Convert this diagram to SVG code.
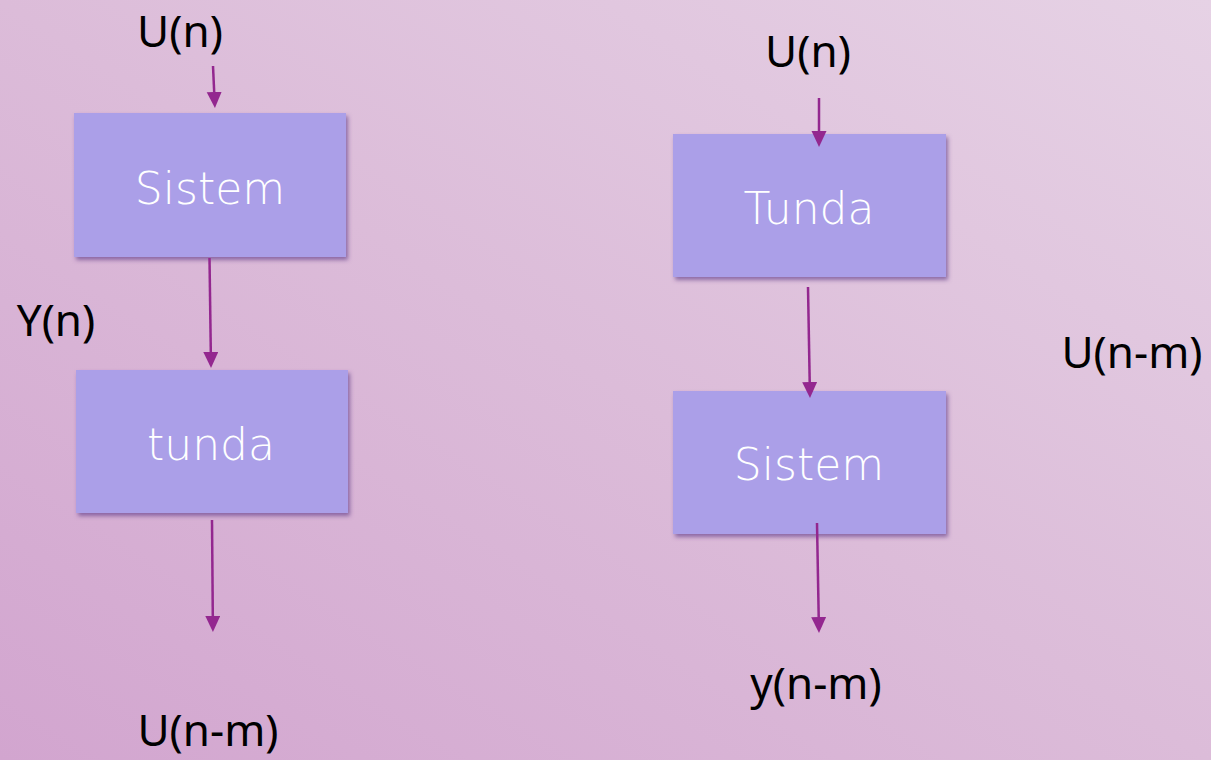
<svg xmlns="http://www.w3.org/2000/svg" width="1211" height="760" viewBox="0 0 1211 760">
  <defs>
    <linearGradient id="bg" x1="0" y1="1" x2="1" y2="0">
      <stop offset="0" stop-color="#d2a5cf"/>
      <stop offset="0.5" stop-color="#dcbcd9"/>
      <stop offset="1" stop-color="#e6d2e5"/>
    </linearGradient>
    <filter id="shadow" x="-10%" y="-10%" width="130%" height="130%">
      <feDropShadow dx="2" dy="3" stdDeviation="2" flood-color="#5e3a86" flood-opacity="0.65"/>
    </filter>
    <marker id="arrow" markerUnits="userSpaceOnUse" markerWidth="16" markerHeight="16" refX="0" refY="7.5" orient="auto">
      <path d="M0,0 L16,7.5 L0,15 z" fill="#93278f"/>
    </marker>
    <style>
      .box { fill: #ab9fe8; filter: url(#shadow); }
      .boxtext { font-family: "DejaVu Sans", "Liberation Sans", sans-serif; font-size: 44px; fill: #ffffff; text-anchor: middle; font-weight: 300; }
      .label { font-family: "Noto Sans", "Liberation Sans", sans-serif; font-size: 44px; fill: #000000; text-anchor: middle; }
      .conn { fill: none; stroke: #93278f; stroke-width: 2.5; marker-end: url(#arrow); }
    </style>
  </defs>
  <rect x="0" y="0" width="1211" height="760" fill="url(#bg)"/>

  <g id="node-sistem-left">
    <rect class="box" x="74" y="113" width="272" height="144"/>
    <text class="boxtext" x="210" y="204">Sistem</text>
  </g>
  <g id="node-tunda-left">
    <rect class="box" x="76" y="370" width="272" height="143"/>
    <text class="boxtext" x="211" y="460">tunda</text>
  </g>
  <g id="node-tunda-right">
    <rect class="box" x="673" y="134" width="273" height="143"/>
    <text class="boxtext" x="809" y="224">Tunda</text>
  </g>
  <g id="node-sistem-right">
    <rect class="box" x="673" y="391" width="273" height="143"/>
    <text class="boxtext" x="809" y="480">Sistem</text>
  </g>

  <g id="labels">
    <text class="label" x="180" y="47">U(n)</text>
    <text class="label" x="808" y="67">U(n)</text>
    <text class="label" x="56" y="336">Y(n)</text>
    <text class="label" x="208" y="746">U(n-m)</text>
    <text class="label" x="1132" y="368">U(n-m)</text>
    <text class="label" x="816" y="699">y(n-m)</text>
  </g>

  <g id="connectors">
    <path class="conn" d="M213,66 L214.2,92"/>
    <path class="conn" d="M209.5,258 L210.8,352"/>
    <path class="conn" d="M212,520 L212.8,616"/>
    <path class="conn" d="M819,98 L819,131"/>
    <path class="conn" d="M808,287 L809.7,382"/>
    <path class="conn" d="M817,523 L818.7,617"/>
  </g>
</svg>
